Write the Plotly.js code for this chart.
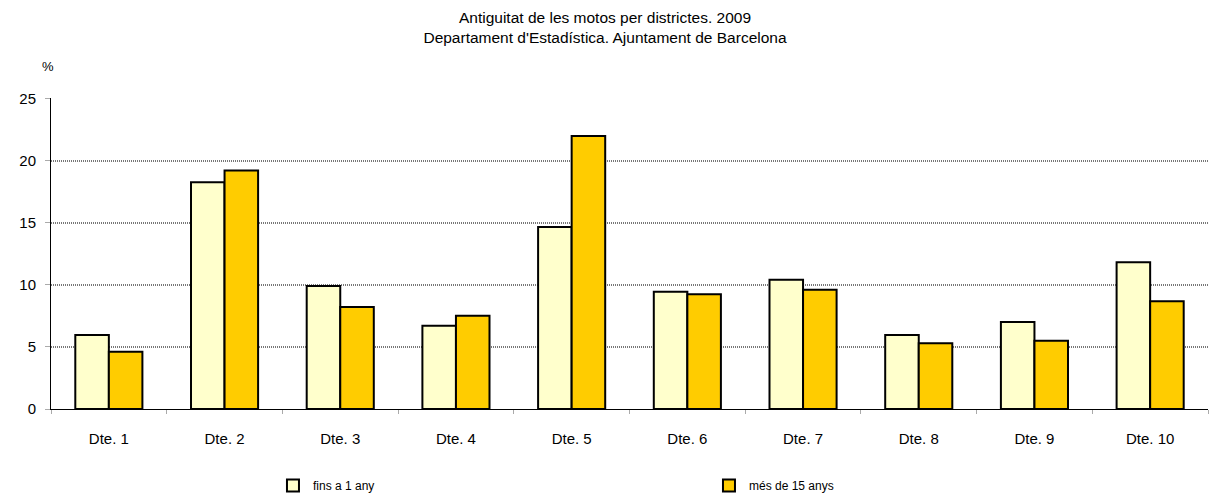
<!DOCTYPE html>
<html>
<head>
<meta charset="utf-8">
<script src="https://cdn.plot.ly/plotly-3.0.1.min.js"></script>
<style>body{margin:0;padding:0;background:#fff;}#chart{width:1210px;height:500px;}</style>
</head>
<body>
<div id="chart"></div>
<script>
const categories = ["Dte. 1","Dte. 2","Dte. 3","Dte. 4","Dte. 5","Dte. 6","Dte. 7","Dte. 8","Dte. 9","Dte. 10"];
const finsA1Any = [5.95, 18.25, 9.9, 6.7, 14.65, 9.43, 10.4, 5.95, 7.0, 11.82];
const mesDe15Anys = [4.6, 19.2, 8.2, 7.5, 21.97, 9.24, 9.6, 5.3, 5.5, 8.68];
const seriesNames = ["fins a 1 any", "més de 15 anys"];

const font = "Liberation Sans, Arial, sans-serif";
const traces = [
  {type:"bar", name:seriesNames[0], x:categories, y:finsA1Any,
   marker:{color:"#FFFFCC", line:{color:"#000", width:2}}},
  {type:"bar", name:seriesNames[1], x:categories, y:mesDe15Anys,
   marker:{color:"#FFCC00", line:{color:"#000", width:2}}}
];
const layout = {
  width:1210, height:500,
  margin:{l:51, r:2, t:98, b:91, autoexpand:false},
  paper_bgcolor:"#fff", plot_bgcolor:"#fff",
  font:{family:font, size:15, color:"#000"},
  title:{text:"Antiguitat de les motos per districtes. 2009<br>Departament d'Estadística. Ajuntament de Barcelona",
         font:{family:font, size:15.5, color:"#000"}, x:0.5, xanchor:"center", yref:"container", y:0.955, yanchor:"top"},
  barmode:"group", bargap:0.42, bargroupgap:0,
  xaxis:{type:"category", showline:true, linecolor:"#000", linewidth:1,
         ticks:"outside", tickson:"boundaries", ticklen:4, tickcolor:"#aaa",
         ticklabelstandoff:16, showgrid:false, tickfont:{family:font, size:15}},
  yaxis:{range:[0,25.03], tickvals:[0,5,10,15,20,25], showline:true, linecolor:"#000", linewidth:1,
         ticks:"outside", ticklen:5, tickcolor:"#aaa", ticklabelstandoff:6,
         showgrid:true, gridcolor:"#777", gridwidth:2, griddash:"1px,1px", zeroline:false,
         tickfont:{family:font, size:15}},
  showlegend:true,
  legend:{orientation:"h", xref:"container", x:0.2256, xanchor:"left", yref:"container", y:-0.016, yanchor:"bottom",
          font:{family:font, size:12}, entrywidth:391, entrywidthmode:"pixels",
          itemwidth:30, traceorder:"normal", bgcolor:"rgba(0,0,0,0)"},
  annotations:[{text:"%", xref:"paper", yref:"paper", x:-0.0026, y:1.1, xanchor:"center", yanchor:"middle",
                showarrow:false, font:{family:font, size:13}}]
};
Plotly.newPlot("chart", traces, layout, {displayModeBar:false, staticPlot:true});
</script>
</body>
</html>
